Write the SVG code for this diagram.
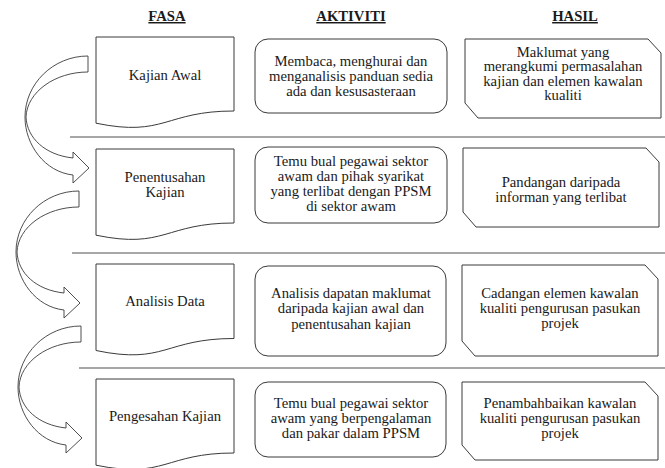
<svg xmlns="http://www.w3.org/2000/svg" width="665" height="468" viewBox="0 0 665 468" font-family="'Liberation Serif', 'DejaVu Serif', serif">
<style>
  text { font-family: 'Liberation Serif', 'DejaVu Serif', serif; font-size: 14.7px; fill: #1a1a1a; text-anchor: middle; }
  .hdr { font-weight: bold; text-decoration: underline; }
  .shape { fill: #ffffff; stroke: #3a3a3a; stroke-width: 1; }
  .sep { stroke: #8a8a8a; stroke-width: 1.5; }
  .arrow { fill: #ffffff; stroke: #3a3a3a; stroke-width: 0.9; stroke-linejoin: miter; }
</style>
<defs>
  <path id="carrow" d="M0,0 C-35,0 -63,28 -63,61 C-63,89 -43,116 -15,119 L-15,127 L1,112 L-15,96 L-15,102 C-43,99 -61,82 -62,61 C-61,36 -33,16 0,16 Z"/>
</defs>
<rect width="665" height="468" fill="#ffffff"/>

<g id="headers">
  <text class="hdr" x="167" y="21">FASA</text>
  <text class="hdr" x="351" y="21">AKTIVITI</text>
  <text class="hdr" x="575" y="21">HASIL</text>
</g>

<g id="separators">
  <line class="sep" x1="70" y1="137" x2="665" y2="137"/>
  <line class="sep" x1="72" y1="253" x2="665" y2="253"/>
  <line class="sep" x1="79" y1="368" x2="665" y2="368"/>
</g>

<g id="connectors">
  <use href="#carrow" class="arrow" transform="translate(88,56)"/>
  <use href="#carrow" class="arrow" transform="translate(79,191)"/>
  <use href="#carrow" class="arrow" transform="translate(81,326)"/>
</g>

<g id="fasa1">
  <path class="shape" d="M96,37 H234 V111 C165,111 165,137.4 96,123.2 Z"/>
  <text x="165" y="80">Kajian Awal</text>
</g>
<g id="fasa2">
  <path class="shape" d="M96,149 H234 V223 C165,223 165,249.4 96,235.2 Z"/>
  <text x="165" y="182">Penentusahan</text>
  <text x="165" y="197">Kajian</text>
</g>
<g id="fasa3">
  <path class="shape" d="M96,264 H234 V338.5 C165,338.5 165,365 96,350.5 Z"/>
  <text x="165" y="306">Analisis Data</text>
</g>
<g id="fasa4">
  <path class="shape" d="M96,379 H234 V453 C165,453 165,479.4 96,465.2 Z"/>
  <text x="165" y="421">Pengesahan Kajian</text>
</g>

<g id="aktiviti1">
  <rect class="shape" x="255" y="39" width="192" height="74" rx="13"/>
  <text x="351" y="66">Membaca, menghurai dan</text>
  <text x="351" y="81">menganalisis panduan sedia</text>
  <text x="351" y="95.5">ada dan kesusasteraan</text>
</g>
<g id="aktiviti2">
  <rect class="shape" x="255" y="147" width="192" height="76" rx="13"/>
  <text x="351" y="165.5">Temu bual pegawai sektor</text>
  <text x="351" y="180.5">awam dan pihak syarikat</text>
  <text x="351" y="195.5">yang terlibat dengan PPSM</text>
  <text x="351" y="210.5">di sektor awam</text>
</g>
<g id="aktiviti3">
  <rect class="shape" x="255" y="266" width="191" height="90" rx="13"/>
  <text x="351" y="297.5">Analisis dapatan maklumat</text>
  <text x="351" y="313">daripada kajian awal dan</text>
  <text x="351" y="328.5">penentusahan kajian</text>
</g>
<g id="aktiviti4">
  <rect class="shape" x="255" y="382" width="191" height="75" rx="13"/>
  <text x="351" y="407.5">Temu bual pegawai sektor</text>
  <text x="351" y="422.5">awam yang berpengalaman</text>
  <text x="351" y="437.5">dan pakar dalam PPSM</text>
</g>

<g id="hasil1">
  <path class="shape" d="M465,39 H648 L661,53 V118 H478 L465,103 Z"/>
  <text x="563" y="56.5">Maklumat yang</text>
  <text x="563" y="71">merangkumi permasalahan</text>
  <text x="563" y="85.5">kajian dan elemen kawalan</text>
  <text x="563" y="100">kualiti</text>
</g>
<g id="hasil2">
  <path class="shape" d="M463,148 H646 L659,162 V227 H476 L463,212 Z"/>
  <text x="561" y="186.5">Pandangan daripada</text>
  <text x="561" y="201.5">informan yang terlibat</text>
</g>
<g id="hasil3">
  <path class="shape" d="M462,265 H645 L658,279 V356 H475 L462,341 Z"/>
  <text x="560" y="297.5">Cadangan elemen kawalan</text>
  <text x="560" y="312.5">kualiti pengurusan pasukan</text>
  <text x="560" y="327.5">projek</text>
</g>
<g id="hasil4">
  <path class="shape" d="M462,382 H645 L658,396 V460 H475 L462,445 Z"/>
  <text x="560" y="407.5">Penambahbaikan kawalan</text>
  <text x="560" y="422.5">kualiti pengurusan pasukan</text>
  <text x="560" y="437.5">projek</text>
</g>
</svg>
